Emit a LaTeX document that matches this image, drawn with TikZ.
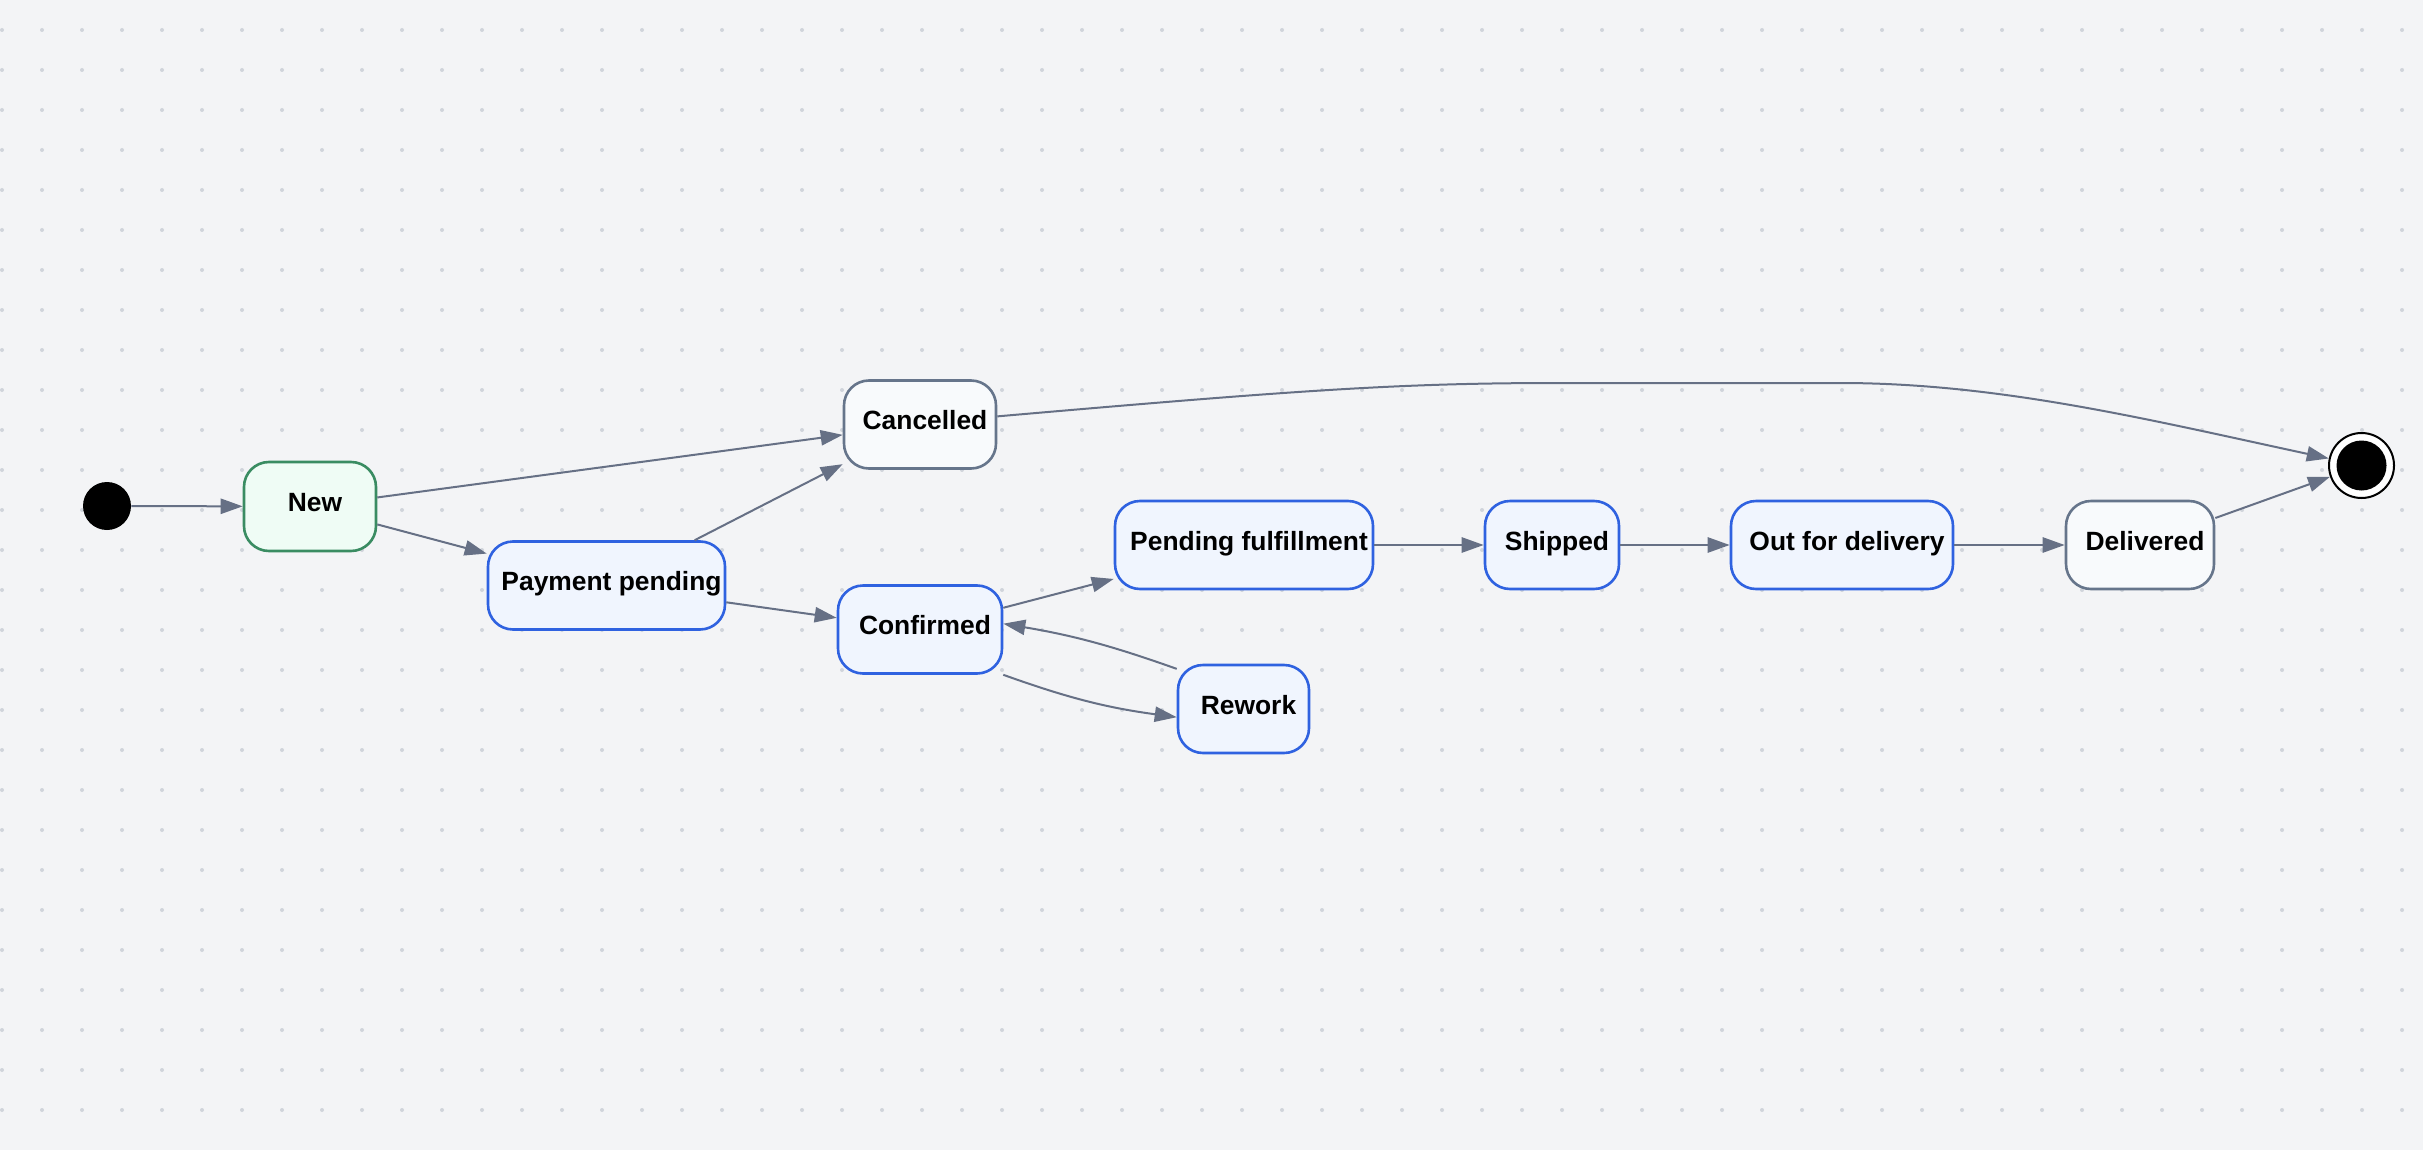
\documentclass[tikz,border=0pt]{standalone}
\usepackage{fontspec}
\setmainfont{Liberation Sans}
\usetikzlibrary{positioning,arrows.meta}

\definecolor{bg_color}{HTML}{F3F4F6}
\definecolor{dot_color}{HTML}{D0D4DB}
\definecolor{edge_color}{HTML}{667085}
\definecolor{green_line}{HTML}{3A8C62}
\definecolor{green_fill}{HTML}{EFFCF5}
\definecolor{blue_line}{HTML}{2F62E0}
\definecolor{blue_fill}{HTML}{F0F5FE}
\definecolor{gray_line}{HTML}{66758B}
\definecolor{gray_fill}{HTML}{F8FAFC}

\begin{document}
\begin{tikzpicture}[
  x=0.5pt, y=-0.5pt,
  node distance=54.7pt,
  state_style/.style={draw, rounded corners=12.5pt, line width=1.3pt, text centered, minimum height=44pt, inner sep=0pt, text height=10pt, text depth=4.7pt, font=\bfseries\fontsize{13.2}{15}\selectfont, execute at begin node=\hspace*{5pt}},
  blue_style/.style={state_style, draw=blue_line, fill=blue_fill},
  gray_style/.style={state_style, draw=gray_line, fill=gray_fill},
  edge_style/.style={draw=edge_color, line width=1pt, -{Stealth[length=11pt, width=7.6pt, inset=0pt]}}
]

% Background with dots
\fill[bg_color] (0,0) rectangle (2423,1150);
\foreach \i in {0,...,60}
  \foreach \j in {0,...,27}
    \fill[dot_color] (2+40*\i, 30+40*\j) circle (1pt);

% States
\node[circle, fill=black, inner sep=0pt, minimum size=24pt] (start) at (107,506) {};
\node[state_style, draw=green_line, fill=green_fill, minimum width=66pt, minimum height=44.5pt] (new) at (310,506.5) {New};
\node[blue_style, minimum width=118.5pt] (pay) at (606.5,585.5) {Payment pending};
\node[gray_style, minimum width=76pt] (cancelled) at (920,424.5) {Cancelled};
\node[blue_style, minimum width=82pt] (confirmed) at (920,629.5) {Confirmed};
\node[blue_style, minimum width=65.5pt] (rework) at (1243.5,709) {Rework};
\node[blue_style, minimum width=129pt] (fulfil) at (1244,545) {Pending fulfillment};
\node[blue_style, minimum width=67pt, right=of fulfil] (shipped) {Shipped};
\node[blue_style, minimum width=111pt, right=of shipped] (out) {Out for delivery};
\node[gray_style, minimum width=74pt, right=55.2pt of out] (delivered) {Delivered};
\node[circle, draw=black, line width=1pt, fill=white, inner sep=0pt, minimum size=32.5pt] (final) at (2361.5,465.5) {};
\fill[black] (final.center) circle (12.5pt);

% Transitions
\draw[edge_style] (start) -- (new);
\draw[edge_style] (new) -- (pay);
\draw[edge_style] (new) -- (cancelled);
\draw[edge_style] (pay) -- (cancelled);
\draw[edge_style] (pay) -- (confirmed);
\draw[edge_style] (confirmed) -- (fulfil);
\draw[edge_style] (confirmed.south east) to[bend right=6] (rework.187);
\draw[edge_style] (rework.149) to[bend right=5] (confirmed.4);
\draw[edge_style] (fulfil) -- (shipped);
\draw[edge_style] (shipped) -- (out);
\draw[edge_style] (out) -- (delivered);
\draw[edge_style] (delivered) -- (final);
\draw[edge_style] (cancelled.6) .. controls (1300,390) and (1400,383) .. (1560,383) -- (1840,383) .. controls (2000,383) and (2150,420) .. (final);
\end{tikzpicture}
\end{document}
